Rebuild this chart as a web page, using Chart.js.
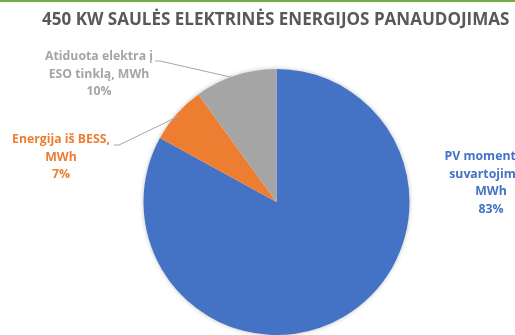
<!DOCTYPE html>
<html><head><meta charset="utf-8">
<script src="https://cdn.jsdelivr.net/npm/chart.js@4/dist/chart.umd.min.js"></script>
<style>
html,body{margin:0;padding:0;background:#fff;overflow:hidden}
#wrap{position:relative;width:515px;height:335px}
#topline{position:absolute;left:0;top:0;width:515px;height:2px;background:#70AD47}
</style></head><body>
<div id="wrap"><canvas id="c" width="515" height="335"></canvas><div id="topline"></div></div>
<script>
const chartTitle = '450 KW SAULĖS ELEKTRINĖS ENERGIJOS PANAUDOJIMAS';
const categories = ['PV momentinis suvartojimas, MWh', 'Energija iš BESS, MWh', 'Atiduota elektra į ESO tinklą, MWh'];
const labelLines = [['PV momentinis', 'suvartojimas,', 'MWh'], ['Energija iš BESS,', 'MWh'], ['Atiduota elektra į', 'ESO tinklą, MWh']];
const shares = [83, 7, 10];
const sliceColors = ['#4472C4', '#ED7D31', '#A5A5A5'];

const labelPlacement = [
  {x: 491, y: 157, line: null},
  {x: 61, y: 140, line: {x: 114, y: 145}},
  {x: 99, y: 57, line: {x: 155, y: 61}}
];
const FONT = '"Open Sans", Lato, sans-serif';

const shadowPlugin = {
  id: 'pieShadow',
  beforeDatasetsDraw(chart) {
    const arc = chart.getDatasetMeta(0).data[0];
    if (!arc) return;
    const ctx = chart.ctx;
    ctx.save();
    ctx.shadowColor = 'rgba(0,0,0,0.30)';
    ctx.shadowBlur = 5;
    ctx.fillStyle = '#ffffff';
    ctx.beginPath();
    ctx.arc(arc.x, arc.y, arc.outerRadius - 0.5, 0, Math.PI * 2);
    ctx.fill();
    ctx.restore();
  }
};

function fitSize(ctx, text, target) {
  ctx.font = 'bold 20px ' + FONT;
  return 20 * target / ctx.measureText(text).width;
}

const labelPlugin = {
  id: 'pieLabels',
  afterDraw(chart) {
    const ctx = chart.ctx;
    ctx.save();
    ctx.fillStyle = '#595959';
    ctx.textBaseline = 'middle';
    ctx.textAlign = 'left';
    const ts = fitSize(ctx, chartTitle, 468);
    ctx.font = 'bold ' + ts.toFixed(2) + 'px ' + FONT;
    ctx.fillText(chartTitle, 42, 20);

    const meta = chart.getDatasetMeta(0);
    const total = shares.reduce((a, b) => a + b, 0);
    const ls = fitSize(ctx, labelLines[2][0], 108);
    ctx.font = 'bold ' + ls.toFixed(2) + 'px ' + FONT;
    ctx.textAlign = 'center';
    meta.data.forEach((arc, i) => {
      const p = labelPlacement[i];
      const lines = labelLines[i].concat([Math.round(shares[i] / total * 100) + '%']);
      ctx.fillStyle = sliceColors[i];
      lines.forEach((t, k) => ctx.fillText(t, p.x, p.y + k * 17.5));
      if (p.line) {
        const mid = (arc.startAngle + arc.endAngle) / 2;
        const ex = arc.x + Math.cos(mid) * (arc.outerRadius - 3);
        const ey = arc.y + Math.sin(mid) * (arc.outerRadius - 3);
        ctx.strokeStyle = '#A6A6A6';
        ctx.lineWidth = 1;
        ctx.beginPath();
        ctx.moveTo(p.line.x, p.line.y);
        ctx.lineTo(p.line.x + 5, p.line.y);
        ctx.lineTo(ex, ey);
        ctx.stroke();
      }
    });
    ctx.restore();
  }
};

new Chart(document.getElementById('c'), {
  type: 'pie',
  data: {
    labels: categories,
    datasets: [{
      data: shares,
      backgroundColor: sliceColors,
      borderWidth: 0
    }]
  },
  options: {
    responsive: false,
    animation: false,
    layout: {padding: {top: 69, bottom: 0, left: 143, right: 105}},
    plugins: {legend: {display: false}, tooltip: {enabled: false}, title: {display: false}}
  },
  plugins: [shadowPlugin, labelPlugin]
});
</script>
</body></html>
